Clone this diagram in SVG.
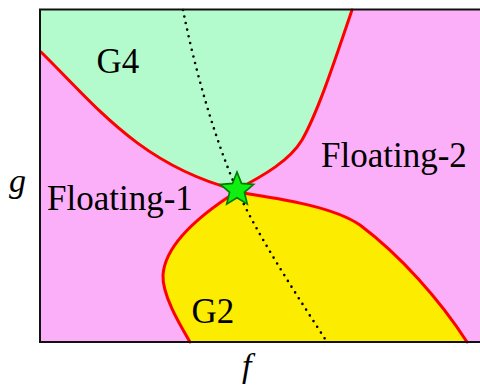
<svg xmlns="http://www.w3.org/2000/svg" width="480" height="387" viewBox="0 0 480 387">
<style>
.lbl{font-family:"Liberation Serif","Times New Roman",serif;font-size:35px;fill:#000}
.ax{font-family:"Liberation Serif","Times New Roman",serif;font-size:34px;font-style:italic;fill:#000}
.bd{fill:none;stroke:#ff0000;stroke-width:3;stroke-linecap:round}
</style>
<rect x="0" y="0" width="480" height="387" fill="#ffffff"/>
<g id="regions">
<rect id="floating" x="40" y="10" width="440" height="332" fill="#fbaff8"/>
<path id="g4" d="M40,10 L40,52 L41,52 C95,105 140,165 236,190 C265,175 290,160 302,140 C318,112 335,60 352,10 Z" fill="#b3fbcc"/>
<path id="g2" d="M236,192 C200,215 165,245 163,275 C162,295 180,325 190,342 L467,342 C440,300 400,255 360,225 C335,208 290,200 236,192 Z" fill="#fcec00"/>
</g>
<g id="connectors">
<path class="bd" d="M41,52 C95,105 140,165 236,190 C265,175 290,160 302,140 C318,112 335,60 352,10"/>
<path class="bd" d="M190,342 C180,325 162,295 163,275 C165,245 200,215 236,192 C290,200 335,208 360,225 C400,255 440,300 467,342"/>
<path d="M183,10 C195,70 215,140 237,190 C260,240 300,300 327,342" fill="none" stroke="#000" stroke-width="2.6" stroke-linecap="round" stroke-dasharray="0 6.8"/>
</g>
<g id="frame" fill="none" stroke="#111" stroke-width="2">
<path d="M480,9.5 L40,9.5 L40,342 L480,342"/>
</g>
<g id="star">
<polygon points="237,172 241.5,183.4 253.7,184.4 244.4,192.3 247.3,204.1 237,197.7 226.7,204.1 229.6,192.3 220.3,184.4 232.5,183.4" fill="#11ee11" stroke="#007a00" stroke-width="1.6"/>
</g>
<g id="labels">
<text class="lbl" x="96.5" y="73">G4</text>
<text class="lbl" x="47" y="210">Floating-1</text>
<text class="lbl" x="321" y="167">Floating-2</text>
<text class="lbl" x="191.5" y="323">G2</text>
<text class="ax" x="9" y="192">g</text>
<text class="ax" x="242" y="377">f</text>
</g>
</svg>
